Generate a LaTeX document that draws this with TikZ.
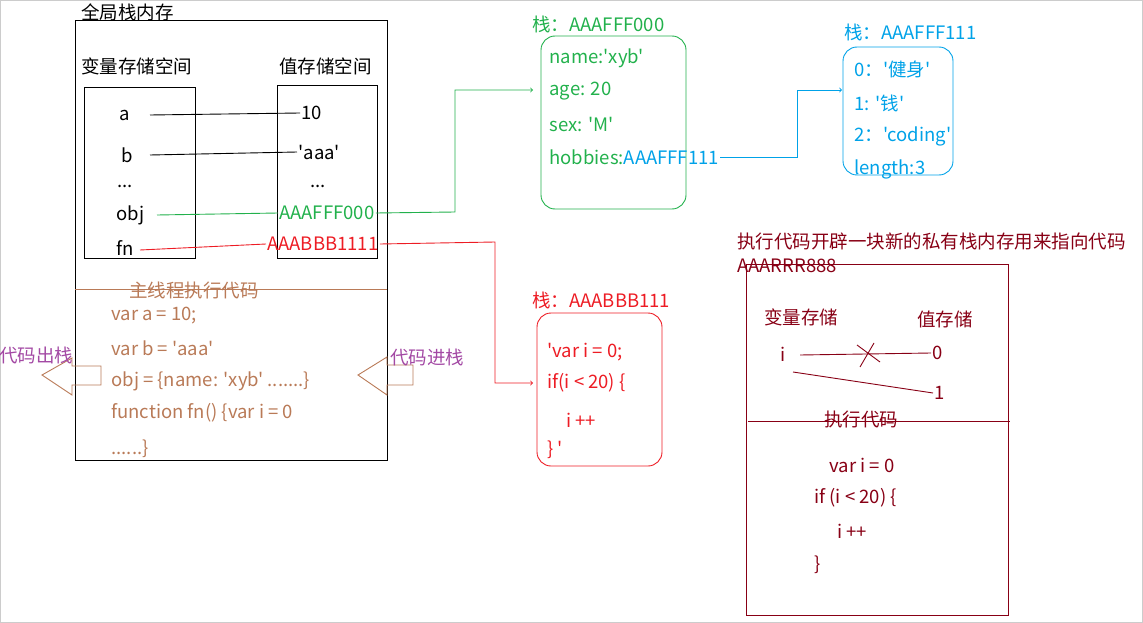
\documentclass[tikz,border=0pt]{standalone}
\usepackage{fontspec}
\setmainfont{Noto Sans CJK SC}[Ligatures=TeXOff]
\usetikzlibrary{arrows}
\definecolor{grn}{RGB}{34,177,76}
\definecolor{blu}{RGB}{0,162,232}
\definecolor{rd}{RGB}{237,28,36}
\definecolor{brn}{RGB}{185,122,87}
\definecolor{prp}{RGB}{163,73,164}
\definecolor{drd}{RGB}{136,0,21}
\tikzset{font={\fontsize{18.5pt}{20}\selectfont}}
\begin{document}
\begin{tikzpicture}[x=1pt,y=-1pt,inner sep=1pt,line width=0.9pt,
                    txt/.style={anchor=west},
                    link/.style={->,>=to,line width=0.9pt}]
  \useasboundingbox (0,0) rectangle (1143,623);
  \draw[gray!40] (0.5,0.5) rectangle (1142.5,622.5);

  % global stack
  \draw (75,20) rectangle (387,460);
  \node[txt] (title) at (80,12) {全局栈内存};
  \node[txt] at (80,66) {变量存储空间};
  \node[txt] at (278,66) {值存储空间};
  \draw (84,87) rectangle (195,258);
  \draw (277,85) rectangle (377,258);
  \node[txt] (a) at (118,115) {a};
  \node[txt] (b) at (120,155) {b};
  \node[txt] at (116,186) {...};
  \node[txt] (obj) at (115,215) {obj};
  \node[txt] (fn) at (115,248) {fn};
  \node[txt] (va) at (300,113) {10};
  \node[txt] (vb) at (297,152) {'aaa'};
  \node[txt] at (309,186) {...};
  \node[txt,grn] (vobj) at (278,213) {AAAFFF000};
  \node[txt,rd] (vfn) at (266,244) {AAABBB1111};
  \draw (150,115) -- (va.west);
  \draw (150,155) -- (vb.west);
  \draw[grn] (157,215) -- (vobj.west);
  \draw[rd] (140,250) -- (vfn.west);

  % main thread
  \draw[brn] (75,289) -- (387,289);
  \node[txt,brn] at (128,290) {主线程执行代码};
  \foreach \t/\y in {{var a = 10;}/316,{var b = 'aaa'}/348,{obj = \{name: 'xyb' .......\}}/381,{function fn() \{var i = 0}/413,{......\}}/449}
    \node[txt,brn] at (110,\y) {\t};
  \draw[brn] (101,366) -- (72,366) -- (72,358) -- (42,375) -- (72,395) -- (72,385) -- (101,385) -- cycle;
  \draw[brn] (413,365) -- (387,365) -- (387,357) -- (358,375) -- (387,395) -- (387,385) -- (413,385) -- cycle;
  \node[txt,prp] at (-2,355) {代码出栈};
  \node[txt,prp] at (389,357) {代码进栈};

  % object stack
  \node[txt,grn] at (531,24) {栈：AAAFFF000};
  \draw[grn,rounded corners=14pt] (541,36) rectangle (686,209);
  \node[txt,grn] at (548,58) {name:'xyb'};
  \node[txt,grn] at (548,91) {age: 20};
  \node[txt,grn] at (548,124) {sex: 'M'};
  \node[txt,grn] (hob) at (548,157) {hobbies:\textcolor{blu}{AAAFFF111}};
  \coordinate (gto) at (533,90);
  \draw[link,grn] (vobj.east) -- (455,212) -- (455,90) -- (gto);

  % hobbies stack
  \node[txt,blu] at (843,32) {栈：AAAFFF111};
  \draw[blu,rounded corners=14pt] (843,47) rectangle (953,175);
  \node[txt,blu] at (853,70) {0：'健身'};
  \node[txt,blu] at (853,103) {1: '钱'};
  \node[txt,blu] at (853,136) {2：'coding'};
  \node[txt,blu] at (853,169) {length:3};
  \coordinate (bto) at (842,90);
  \draw[link,blu] (hob.east) -- (797,157) -- (797,90) -- (bto);

  % function stack
  \node[txt,rd] at (531,300) {栈：AAABBB111};
  \draw[rd,rounded corners=14pt] (537,313) rectangle (662,466);
  \node[txt,rd] at (546,352) {'var i = 0;};
  \node[txt,rd] at (546,383) {if(i < 20) \{};
  \node[txt,rd] at (565,420) {i ++};
  \node[txt,rd] at (546,450) {\} '};
  \coordinate (rto) at (533,383);
  \draw[link,rd] (vfn.east) -- (495,242) -- (495,383) -- (rto);

  % private stack
  \node[txt,drd] at (736,241) {执行代码开辟一块新的私有栈内存用来指向代码};
  \node[txt,drd] at (736,266) {AAARRR888};
  \draw[drd] (746,264) rectangle (1008,615);
  \node[txt,drd] at (763,317) {变量存储};
  \node[txt,drd] at (916,319) {值存储};
  \node[txt,drd] (i) at (779,354) {i};
  \node[txt,drd] (v0) at (931,353) {0};
  \node[txt,drd] (v1) at (933,393) {1};
  \draw[drd] (800,355) -- (v0.west);
  \draw[drd] (793,372) -- (v1.west);
  \draw[drd] (857,345) -- (880,362) (874,343) -- (860,367);
  \draw[drd] (748,421) -- (1010,421);
  \node[txt,drd] at (823,419) {执行代码};
  \node[txt,drd] at (828,465) {var i = 0};
  \node[txt,drd] at (813,498) {if (i < 20) \{};
  \node[txt,drd] at (836,531) {i ++};
  \node[txt,drd] at (813,565) {\}};
\end{tikzpicture}
\end{document}
